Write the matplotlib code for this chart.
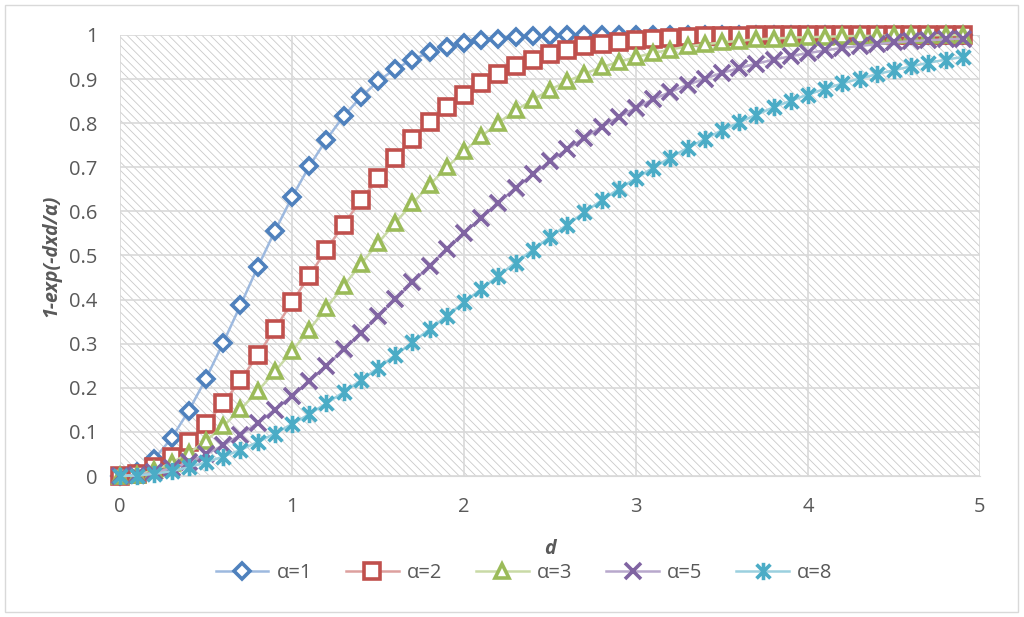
import matplotlib.pyplot as plt
from matplotlib.path import Path
from matplotlib.patches import Rectangle

# d from 0 to 4.9, step 0.1
d = [0.0, 0.1, 0.2, 0.3, 0.4, 0.5, 0.6, 0.7, 0.8, 0.9,
     1.0, 1.1, 1.2, 1.3, 1.4, 1.5, 1.6, 1.7, 1.8, 1.9,
     2.0, 2.1, 2.2, 2.3, 2.4, 2.5, 2.6, 2.7, 2.8, 2.9,
     3.0, 3.1, 3.2, 3.3, 3.4, 3.5, 3.6, 3.7, 3.8, 3.9,
     4.0, 4.1, 4.2, 4.3, 4.4, 4.5, 4.6, 4.7, 4.8, 4.9]

a1 = [0.000, 0.010, 0.039, 0.086, 0.148, 0.221, 0.302, 0.387, 0.473, 0.555,
      0.632, 0.702, 0.763, 0.816, 0.859, 0.895, 0.923, 0.944, 0.961, 0.973,
      0.982, 0.988, 0.992, 0.995, 0.997, 0.998, 0.999, 0.999, 1.000, 1.000,
      1.000, 1.000, 1.000, 1.000, 1.000, 1.000, 1.000, 1.000, 1.000, 1.000,
      1.000, 1.000, 1.000, 1.000, 1.000, 1.000, 1.000, 1.000, 1.000, 1.000]

a2 = [0.000, 0.005, 0.020, 0.044, 0.077, 0.118, 0.165, 0.217, 0.274, 0.333,
      0.394, 0.454, 0.513, 0.570, 0.625, 0.675, 0.722, 0.764, 0.802, 0.836,
      0.865, 0.890, 0.911, 0.929, 0.944, 0.956, 0.966, 0.974, 0.980, 0.985,
      0.989, 0.992, 0.994, 0.996, 0.997, 0.998, 0.998, 0.999, 0.999, 1.000,
      1.000, 1.000, 1.000, 1.000, 1.000, 1.000, 1.000, 1.000, 1.000, 1.000]

a3 = [0.000, 0.003, 0.013, 0.030, 0.052, 0.080, 0.113, 0.151, 0.192, 0.237,
      0.283, 0.332, 0.381, 0.431, 0.480, 0.528, 0.574, 0.618, 0.660, 0.700,
      0.736, 0.770, 0.801, 0.829, 0.853, 0.876, 0.895, 0.912, 0.927, 0.939,
      0.950, 0.959, 0.967, 0.974, 0.979, 0.983, 0.987, 0.990, 0.992, 0.994,
      0.995, 0.996, 0.997, 0.998, 0.998, 0.999, 0.999, 0.999, 1.000, 1.000]

a5 = [0.000, 0.002, 0.008, 0.018, 0.031, 0.049, 0.070, 0.093, 0.120, 0.150,
      0.181, 0.215, 0.250, 0.287, 0.324, 0.362, 0.401, 0.439, 0.477, 0.514,
      0.551, 0.586, 0.620, 0.653, 0.684, 0.714, 0.741, 0.767, 0.792, 0.814,
      0.835, 0.854, 0.871, 0.887, 0.901, 0.914, 0.925, 0.935, 0.944, 0.952,
      0.959, 0.965, 0.971, 0.975, 0.979, 0.983, 0.986, 0.988, 0.990, 0.992]

a8 = [0.000, 0.001, 0.005, 0.011, 0.020, 0.031, 0.044, 0.059, 0.077, 0.096,
      0.118, 0.140, 0.165, 0.190, 0.217, 0.245, 0.274, 0.303, 0.333, 0.363,
      0.394, 0.424, 0.454, 0.484, 0.513, 0.542, 0.570, 0.598, 0.625, 0.651,
      0.675, 0.699, 0.722, 0.744, 0.764, 0.784, 0.802, 0.819, 0.836, 0.851,
      0.865, 0.878, 0.890, 0.901, 0.911, 0.920, 0.929, 0.937, 0.944, 0.950]

labels = ["α=1", "α=2", "α=3", "α=5", "α=8"]
y_ticks = [0, 0.1, 0.2, 0.3, 0.4, 0.5, 0.6, 0.7, 0.8, 0.9, 1]
y_tick_labels = ["0", "0.1", "0.2", "0.3", "0.4", "0.5", "0.6", "0.7", "0.8", "0.9", "1"]
x_ticks = [0, 1, 2, 3, 4, 5]

# Excel-style asterisk marker: an X with a vertical bar
star = Path([(-1, -1), (1, 1), (-1, 1), (1, -1), (0, -1.25), (0, 1.25)],
            [Path.MOVETO, Path.LINETO, Path.MOVETO, Path.LINETO, Path.MOVETO, Path.LINETO])

styles = [
    ("D", "#4F81BD", "#9DB9DF", 8.5),
    ("s", "#C0504D", "#DDA09E", 11),
    ("^", "#9BBB59", "#C9DAA6", 10.5),
    ("x", "#8064A2", "#B8A8CC", 11.5),
    (star, "#4BACC6", "#9BD0DF", 12.5),
]

plt.rcParams["font.family"] = ["Open Sans", "DejaVu Sans"]
plt.rcParams["hatch.linewidth"] = 0.6

fig = plt.figure(figsize=(10.24, 6.17), dpi=100)
ax = fig.add_axes([0.1172, 0.2285, 0.8398, 0.7148])

# outer chart border
fig.patches.append(Rectangle((0.005, 0.008), 0.989, 0.984, transform=fig.transFigure,
                             fill=False, edgecolor="#D9D9D9", linewidth=1))

# hatched plot area
ax.add_patch(Rectangle((0, 0), 1, 1, transform=ax.transAxes, facecolor="white",
                       hatch="\\\\\\\\", edgecolor="#CACACA", linewidth=0, zorder=0))

series = [a1, a2, a3, a5, a8]
for vals, lab, (mk, mc, lc, ms) in zip(series, labels, styles):
    ax.plot(d, vals, color=lc, linewidth=1.8, marker=mk, markersize=ms,
            markeredgecolor=mc, markerfacecolor="white", markeredgewidth=2.6,
            label=lab, clip_on=False, zorder=3)

ax.set_xlim(0, 5)
ax.set_ylim(0, 1)
ax.set_xticks(x_ticks)
ax.set_yticks(y_ticks)
ax.set_yticklabels(y_tick_labels)
ax.grid(True, color="#D9D9D9", linewidth=1.2)
ax.set_axisbelow(True)
for s in ["top", "right", "left"]:
    ax.spines[s].set_visible(False)
ax.spines["bottom"].set_color("#D9D9D9")
ax.tick_params(length=0, labelsize=14.5, colors="#595959")
ax.tick_params(axis="y", pad=16)
ax.tick_params(axis="x", pad=15)

ax.set_xlabel("d", fontsize=14, fontweight="bold", fontstyle="italic", color="#595959", labelpad=16)
ax.set_ylabel("1-exp(-dxd/α)", fontsize=14, fontweight="bold", fontstyle="italic",
              color="#595959", labelpad=6)

leg = ax.legend(loc="center", bbox_to_anchor=(0.47, -0.22), ncol=5, frameon=False,
                fontsize=14.5, handlelength=2.6, columnspacing=1.7, handletextpad=0.4)
for t in leg.get_texts():
    t.set_color("#595959")

fig.savefig("out.png", dpi=100)
